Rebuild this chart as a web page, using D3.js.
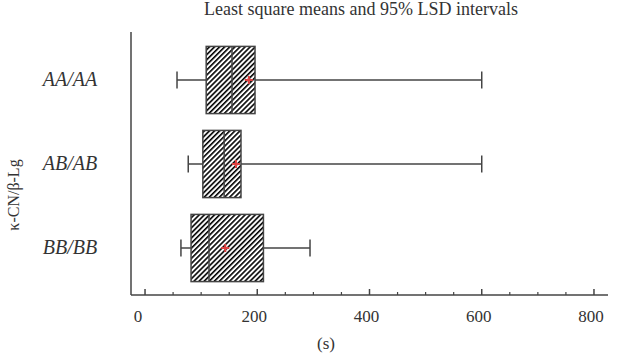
<!DOCTYPE html>
<html lang="en">
<head>
<meta charset="UTF-8">
<title>Least square means</title>
<style>
  body { margin: 0; background: #fff; }
  svg text { font-family: "Liberation Serif", "Times New Roman", serif; fill: #333; }
</style>
</head>
<body>
<div id="chart"></div>
<script src="https://cdn.jsdelivr.net/npm/d3@7"></script>
<script>
// data
const genotypes = ['AA/AA', 'AB/AB', 'BB/BB'];
const whiskerLow = [57, 77, 64];
const q1 = [109, 103, 82];
const median = [155, 141, 114];
const q3 = [196, 171, 211];
const whiskerHigh = [600, 600, 294];
const means = [185, 162, 143];
const xTicks = [0, 200, 400, 600, 800];

const width = 623, height = 354;

const svg = d3.select('#chart').append('svg')
  .attr('width', width)
  .attr('height', height);

// hatch pattern for boxes
const defs = svg.append('defs');
const pat = defs.append('pattern')
  .attr('id', 'hatch')
  .attr('patternUnits', 'userSpaceOnUse')
  .attr('width', 3.6)
  .attr('height', 3.6)
  .attr('patternTransform', 'rotate(45)');
pat.append('rect').attr('width', 3.6).attr('height', 3.6).attr('fill', '#fff');
pat.append('line')
  .attr('x1', 0.8).attr('y1', 0).attr('x2', 0.8).attr('y2', 3.6)
  .attr('stroke', '#000').attr('stroke-width', 1.6);

const x = d3.scaleLinear().domain([-25, 825]).range([131, 608]);
const y = d3.scaleBand().domain(genotypes).range([38, 290]).paddingInner(0.2).paddingOuter(0.1);

// axes
const axisG = svg.append('g').attr('stroke', '#444').attr('stroke-width', 1.5);
axisG.append('line').attr('x1', 131).attr('x2', 131).attr('y1', 32).attr('y2', 295);
axisG.append('line').attr('x1', 131).attr('x2', 608).attr('y1', 295).attr('y2', 295);

const minor = d3.range(0, 801, 50).filter(v => v % 200 !== 0);
axisG.selectAll('.maj').data(xTicks).join('line')
  .attr('x1', d => x(d)).attr('x2', d => x(d))
  .attr('y1', 295).attr('y2', 289);
axisG.selectAll('.min').data(minor).join('line')
  .attr('stroke-width', 1.2)
  .attr('x1', d => x(d)).attr('x2', d => x(d))
  .attr('y1', 295).attr('y2', 292);

svg.append('g').selectAll('text').data(xTicks).join('text')
  .attr('x', d => x(d) - (d === 0 ? 7 : 3))
  .attr('y', 322)
  .attr('text-anchor', 'middle')
  .attr('font-size', 17)
  .text(d => d);

svg.append('text')
  .attr('x', 326).attr('y', 349)
  .attr('text-anchor', 'middle')
  .attr('font-size', 17)
  .text('(s)');

svg.append('text')
  .attr('x', 361).attr('y', 15)
  .attr('text-anchor', 'middle')
  .attr('font-size', 18)
  .text('Least square means and 95% LSD intervals');

svg.append('text')
  .attr('transform', 'translate(19,195) rotate(-90)')
  .attr('text-anchor', 'middle')
  .attr('font-size', 16)
  .text('κ-CN/β-Lg');

// category labels
svg.append('g').selectAll('text').data(genotypes).join('text')
  .attr('x', 70)
  .attr('y', d => y(d) + y.bandwidth() / 2 + 6)
  .attr('text-anchor', 'middle')
  .attr('font-size', 20)
  .attr('font-style', 'italic')
  .text(d => d);

// boxes
const rows = genotypes.map((g, i) => ({
  g, lo: whiskerLow[i], q1: q1[i], med: median[i], q3: q3[i], hi: whiskerHigh[i], mean: means[i]
}));

const box = svg.append('g').selectAll('g').data(rows).join('g')
  .attr('transform', d => `translate(0,${y(d.g)})`);

const bw = y.bandwidth();
const stroke = '#444';

box.append('line')
  .attr('x1', d => x(d.lo)).attr('x2', d => x(d.q1))
  .attr('y1', bw / 2).attr('y2', bw / 2)
  .attr('stroke', stroke).attr('stroke-width', 1.5);
box.append('line')
  .attr('x1', d => x(d.q3)).attr('x2', d => x(d.hi))
  .attr('y1', bw / 2).attr('y2', bw / 2)
  .attr('stroke', stroke).attr('stroke-width', 1.5);
box.append('line')
  .attr('x1', d => x(d.lo)).attr('x2', d => x(d.lo))
  .attr('y1', bw / 2 - 8.5).attr('y2', bw / 2 + 8.5)
  .attr('stroke', stroke).attr('stroke-width', 1.5);
box.append('line')
  .attr('x1', d => x(d.hi)).attr('x2', d => x(d.hi))
  .attr('y1', bw / 2 - 8.5).attr('y2', bw / 2 + 8.5)
  .attr('stroke', stroke).attr('stroke-width', 1.5);

box.append('rect')
  .attr('x', d => x(d.q1))
  .attr('width', d => x(d.q3) - x(d.q1))
  .attr('y', 0).attr('height', bw)
  .attr('fill', 'url(#hatch)')
  .attr('stroke', stroke).attr('stroke-width', 1.5);

box.append('line')
  .attr('x1', d => x(d.med)).attr('x2', d => x(d.med))
  .attr('y1', 0).attr('y2', bw)
  .attr('stroke', stroke).attr('stroke-width', 1.5);

// mean marker
box.append('path')
  .attr('transform', d => `translate(${x(d.mean)},${bw / 2})`)
  .attr('d', 'M-4,0H4M0,-4V4')
  .attr('stroke', '#e04040').attr('stroke-width', 2);
</script>
</body>
</html>
